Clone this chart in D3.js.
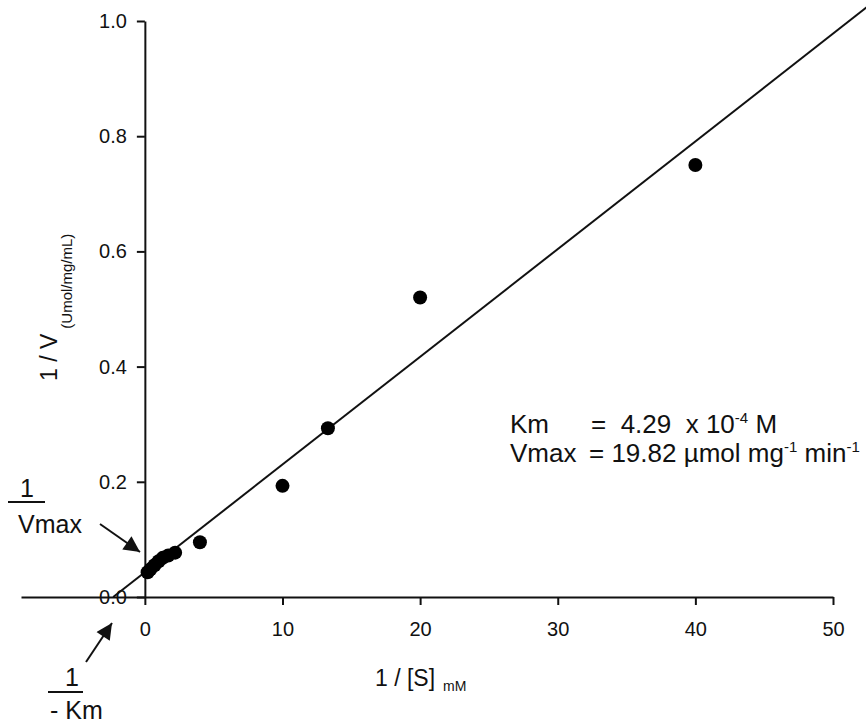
<!DOCTYPE html>
<html>
<head>
<meta charset="utf-8">
<script src="https://cdn.jsdelivr.net/npm/d3@7"></script>
<style>
  body { margin: 0; background: #fff; }
  svg { display: block; }
  text { font-family: "Liberation Sans", Arial, Helvetica, sans-serif; fill: #111; }
  .axis path, .axis line { stroke: #111; stroke-width: 2; }
  .axis text { font-size: 20px; }
</style>
</head>
<body>
<svg width="866" height="727"></svg>
<script>
// Lineweaver-Burk plot, values

var invS = [0.2, 0.4, 0.7, 1.0, 1.3, 1.7, 2.2, 4.0, 10.0, 13.3, 20.0, 40.0];
var invV = [0.043, 0.048, 0.055, 0.062, 0.068, 0.072, 0.077, 0.095, 0.193, 0.293, 0.52, 0.75];

// fitted line
var lineIntercept = 0.043;
var lineSlope = 0.0187;
var lineFrom = -2.3, lineTo = 53;

var xTicks = [0, 10, 20, 30, 40, 50];
var yTicks = [0, 0.2, 0.4, 0.6, 0.8, 1.0];

var svg = d3.select("svg"),
    width = +svg.attr("width"),
    height = +svg.attr("height");

var x = d3.scaleLinear().domain([-9, 50]).range([21, 833]);
var y = d3.scaleLinear().domain([0, 1]).range([597, 21]);

// y axis
svg.append("g")
    .attr("class", "axis")
    .attr("transform", "translate(" + x(0) + ",0)")
    .call(d3.axisLeft(y).tickValues(yTicks).tickFormat(d3.format(".1f"))
      .tickSize(8).tickSizeOuter(0).tickPadding(10));

// x axis
svg.append("g")
    .attr("class", "axis")
    .attr("transform", "translate(0," + y(0) + ")")
    .call(d3.axisBottom(x).tickValues(xTicks).tickFormat(d3.format("d"))
      .tickSize(8).tickSizeOuter(0).tickPadding(17));

svg.selectAll(".axis .domain").attr("fill", "none");

// regression line
var fit = [lineFrom, lineTo].map(function(d) { return [d, lineIntercept + lineSlope * d]; });
svg.append("path")
    .datum(fit)
    .attr("fill", "none")
    .attr("stroke", "#111")
    .attr("stroke-width", 2)
    .attr("d", d3.line()
      .x(function(d) { return x(d[0]); })
      .y(function(d) { return y(d[1]); }));

// points
svg.append("g")
  .selectAll("circle")
  .data(invS)
  .enter().append("circle")
    .attr("cx", function(d) { return x(d); })
    .attr("cy", function(d, i) { return y(invV[i]); })
    .attr("r", 7)
    .attr("fill", "#000");

// axis titles
var ylab = svg.append("text")
    .attr("transform", "translate(57,381) rotate(-90)")
    .style("font-size", "23px");
ylab.append("tspan").text("1 / V");
ylab.append("tspan").attr("dx", 5).attr("dy", 15).style("font-size", "15px").text("(Umol/mg/mL)");

var xlab = svg.append("text")
    .attr("x", 375)
    .attr("y", 686)
    .style("font-size", "23px");
xlab.append("tspan").text("1 / [S]");
xlab.append("tspan").attr("dx", 8).attr("dy", 5).style("font-size", "14px").text("mM");

// Km / Vmax box
var note = svg.append("g").style("font-size", "26px");
note.append("text").attr("x", 510).attr("y", 433).text("Km");
note.append("text").attr("x", 510).attr("y", 462).text("Vmax");

var l1 = note.append("text").attr("x", 591).attr("y", 433).style("white-space", "pre");
l1.append("tspan").text("=  4.29  x 10");
l1.append("tspan").attr("dy", -10).style("font-size", "15px").text("-4");
l1.append("tspan").attr("dy", 10).text(" M");

var l2 = note.append("text").attr("x", 589).attr("y", 462).style("white-space", "pre");
l2.append("tspan").text("= 19.82 \u00b5mol mg");
l2.append("tspan").attr("dy", -10).style("font-size", "15px").text("-1");
l2.append("tspan").attr("dy", 10).text(" min");
l2.append("tspan").attr("dy", -10).style("font-size", "15px").text("-1");

// arrow marker
svg.append("defs").append("marker")
    .attr("id", "head")
    .attr("viewBox", "0 -5 10 10")
    .attr("refX", 10)
    .attr("refY", 0)
    .attr("markerWidth", 9)
    .attr("markerHeight", 8)
    .attr("markerUnits", "strokeWidth")
    .attr("orient", "auto")
  .append("path")
    .attr("d", "M0,-5L10,0L0,5Z")
    .attr("fill", "#111");

// 1 / Vmax label
svg.append("text").attr("x", 27).attr("y", 497).attr("text-anchor", "middle")
    .style("font-size", "25px").text("1");
svg.append("line").attr("x1", 8).attr("x2", 45).attr("y1", 502).attr("y2", 502)
    .attr("stroke", "#111").attr("stroke-width", 2);
svg.append("text").attr("x", 18).attr("y", 533).style("font-size", "25px").text("Vmax");
svg.append("line").attr("x1", 100).attr("y1", 524).attr("x2", 140).attr("y2", 552)
    .attr("stroke", "#111").attr("stroke-width", 2).attr("marker-end", "url(#head)");

// 1 / -Km label
svg.append("text").attr("x", 72).attr("y", 686).attr("text-anchor", "middle")
    .style("font-size", "25px").text("1");
svg.append("line").attr("x1", 48).attr("x2", 83).attr("y1", 692).attr("y2", 692)
    .attr("stroke", "#111").attr("stroke-width", 2);
svg.append("text").attr("x", 50).attr("y", 719).style("font-size", "25px").text("- Km");
svg.append("line").attr("x1", 86).attr("y1", 662).attr("x2", 112).attr("y2", 623)
    .attr("stroke", "#111").attr("stroke-width", 2).attr("marker-end", "url(#head)");
</script>
</body>
</html>
